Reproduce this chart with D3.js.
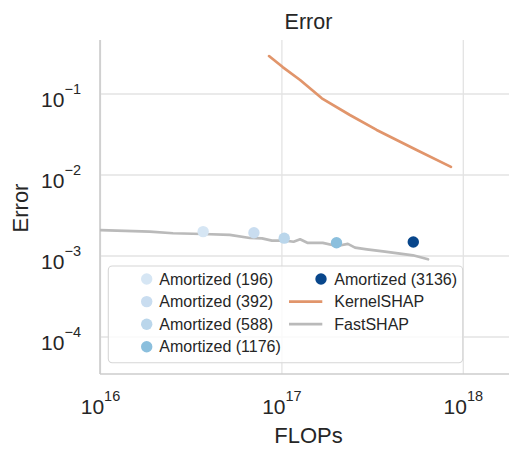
<!DOCTYPE html>
<html>
<head>
<meta charset="utf-8">
<script src="https://cdn.jsdelivr.net/npm/d3@7"></script>
<style>
  html, body { margin: 0; padding: 0; background: #fff; }
  svg { display: block; font-family: "Liberation Sans", Arial, sans-serif; }
</style>
</head>
<body>
<svg id="chart" width="509" height="449"></svg>
<script>
// ---- data ----
const kernelFlops = [8.49e16, 1.01e17, 1.26e17, 1.66e17, 2.37e17, 3.33e17, 5.53e17, 8.55e17];
const kernelError = [0.294, 0.215, 0.149, 0.0885, 0.0551, 0.0360, 0.0204, 0.0126];

const fastFlops = [1.0e16, 1.87e16, 2.51e16, 3.66e16, 5.16e16, 6.66e16, 7.77e16, 8.81e16, 1.04e17, 1.16e17,
                   1.26e17, 1.39e17, 1.68e17, 2.01e17, 2.31e17, 2.53e17, 2.94e17, 3.61e17, 4.48e17, 5.28e17, 6.39e17];
const fastError = [2.09e-3, 2.00e-3, 1.91e-3, 1.87e-3, 1.82e-3, 1.67e-3, 1.65e-3, 1.55e-3, 1.55e-3, 1.50e-3,
                   1.61e-3, 1.45e-3, 1.45e-3, 1.33e-3, 1.41e-3, 1.27e-3, 1.21e-3, 1.14e-3, 1.07e-3, 1.02e-3, 9.1e-4];

const amortLabels = ["Amortized (196)", "Amortized (392)", "Amortized (588)", "Amortized (1176)", "Amortized (3136)"];
const amortFlops = [3.68e16, 7.01e16, 1.03e17, 2.0e17, 5.3e17];
const amortError = [2.0e-3, 1.94e-3, 1.66e-3, 1.46e-3, 1.49e-3];
const amortColors = ["#d6e6f4", "#c9ddf0", "#bad6eb", "#8bbfdd", "#08468b"];

const xTicks = [1e16, 1e17, 1e18];
const xTickExp = ["16", "17", "18"];
const yTicks = [1e-1, 1e-2, 1e-3, 1e-4];
const yTickExp = ["\u22121", "\u22122", "\u22123", "\u22124"];

const kernelColor = "#e1956b";
const fastColor = "#bababa";
const textColor = "#262626";

// ---- layout ----
const svg = d3.select("#chart");
const pL = 100, pR = 516, pT = 40, pB = 374;

const x = d3.scaleLog().domain([1e16, Math.pow(10, 16 + (pR - 100.5) / 181.4)]).range([100.5, pR]);
const y = d3.scaleLog().domain([Math.pow(10, -1 + 54 / 81), Math.pow(10, -4 - 37 / 81)]).range([pT, pB]);

svg.append("defs").append("clipPath").attr("id", "clip")
  .append("rect").attr("x", pL).attr("y", pT).attr("width", pR - pL).attr("height", pB - pT);

// grid
const grid = svg.append("g");
grid.selectAll("line.gx").data(xTicks).join("line")
  .attr("x1", d => x(d)).attr("x2", d => x(d)).attr("y1", pT).attr("y2", pB)
  .attr("stroke", "#e3e3e3").attr("stroke-width", 1.3);
grid.selectAll("line.gy").data(yTicks).join("line")
  .attr("x1", pL).attr("x2", pR).attr("y1", d => y(d)).attr("y2", d => y(d))
  .attr("stroke", "#e3e3e3").attr("stroke-width", 1.3);

// spines
svg.append("line").attr("x1", pL).attr("x2", pL).attr("y1", pT).attr("y2", pB)
  .attr("stroke", "#cccccc").attr("stroke-width", 1.6);
svg.append("line").attr("x1", pL).attr("x2", pR).attr("y1", pB).attr("y2", pB)
  .attr("stroke", "#cccccc").attr("stroke-width", 1.6);

// data
const plot = svg.append("g").attr("clip-path", "url(#clip)");
const line = d3.line().x(d => x(d[0])).y(d => y(d[1]));

plot.append("path").datum(kernelFlops.map((f, i) => [f, kernelError[i]]))
  .attr("d", line).attr("fill", "none").attr("stroke", kernelColor).attr("stroke-width", 2.7)
  .attr("stroke-linejoin", "round").attr("stroke-linecap", "round");

plot.append("path").datum(fastFlops.map((f, i) => [f, fastError[i]]))
  .attr("d", line).attr("fill", "none").attr("stroke", fastColor).attr("stroke-width", 2.7)
  .attr("stroke-linejoin", "round").attr("stroke-linecap", "round");

plot.selectAll("circle.am").data(amortFlops.map((f, i) => ({ f, e: amortError[i], c: amortColors[i] })))
  .join("circle")
  .attr("cx", d => x(d.f)).attr("cy", d => y(d.e)).attr("r", 5.7)
  .attr("fill", d => d.c);

// tick labels
const xt = svg.append("g");
xTicks.forEach((t, i) => {
  const txt = xt.append("text").attr("x", x(t)).attr("y", 414).attr("text-anchor", "middle")
    .attr("fill", textColor).attr("font-size", 21);
  txt.append("tspan").text("10");
  txt.append("tspan").attr("dy", -13).attr("font-size", 14.5).text(xTickExp[i]);
});
const yt = svg.append("g");
yTicks.forEach((t, i) => {
  const txt = yt.append("text").attr("x", 81).attr("y", y(t) + 12.5).attr("text-anchor", "end")
    .attr("fill", textColor).attr("font-size", 21);
  txt.append("tspan").text("10");
  txt.append("tspan").attr("dy", -13).attr("font-size", 14.5).text(yTickExp[i]);
});

// title & labels
svg.append("text").attr("x", 308.5).attr("y", 29).attr("text-anchor", "middle")
  .attr("fill", textColor).attr("font-size", 21.5).text("Error");
svg.append("text").attr("x", 308.5).attr("y", 443).attr("text-anchor", "middle")
  .attr("fill", textColor).attr("font-size", 22).text("FLOPs");
svg.append("text").attr("transform", "translate(28,208) rotate(-90)").attr("text-anchor", "middle")
  .attr("fill", textColor).attr("font-size", 22).text("Error");

// legend
const lg = svg.append("g");
lg.append("rect").attr("x", 108.3).attr("y", 266).attr("width", 354.4).attr("height", 96.7)
  .attr("rx", 4).attr("fill", "#ffffff").attr("fill-opacity", 0.8)
  .attr("stroke", "#d6d6d6").attr("stroke-width", 1.1);
const rowY = i => 279 + i * 22.6;
const fs = 16;
amortLabels.forEach((lab, i) => {
  const col = i < 4 ? 0 : 1;
  const row = i < 4 ? i : 0;
  const mx = col === 0 ? 146.7 : 321;
  const tx = col === 0 ? 159.3 : 334.3;
  lg.append("circle").attr("cx", mx).attr("cy", rowY(row)).attr("r", 5.7).attr("fill", amortColors[i]);
  lg.append("text").attr("x", tx).attr("y", rowY(row) + 5.6).attr("font-size", fs).attr("fill", textColor).text(lab);
});
[["KernelSHAP", kernelColor], ["FastSHAP", fastColor]].forEach((d, i) => {
  const ry = rowY(i + 1);
  lg.append("line").attr("x1", 289).attr("x2", 322.3).attr("y1", ry).attr("y2", ry)
    .attr("stroke", d[1]).attr("stroke-width", 2.7);
  lg.append("text").attr("x", 334.3).attr("y", ry + 5.6).attr("font-size", fs).attr("fill", textColor).text(d[0]);
});
</script>
</body>
</html>
